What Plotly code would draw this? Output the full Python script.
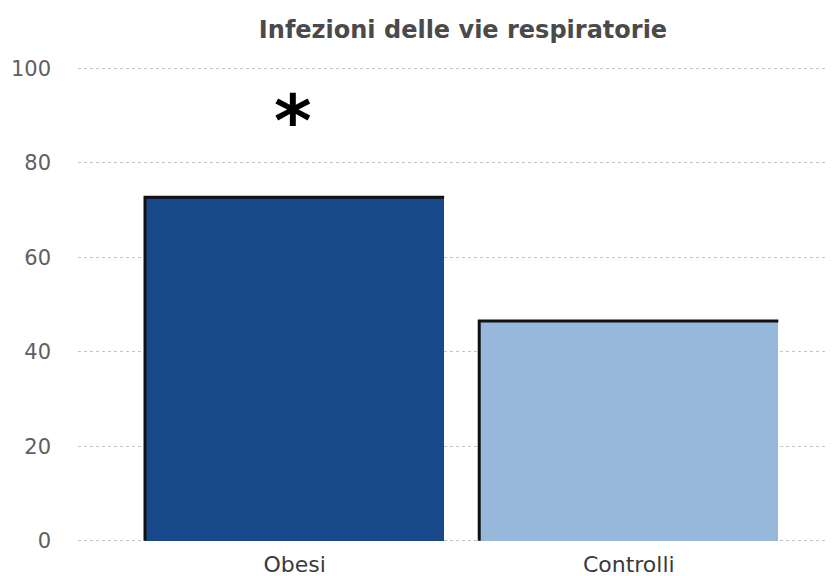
import plotly.graph_objects as go

categories = ["Obesi", "Controlli"]
values = [72.7, 46.5]
colors = ["#184A8B", "#95B8DB"]
y_ticks = [0, 20, 40, 60, 80, 100]
star_value = 90

bar_width = 0.895
xs = list(range(len(categories)))

fig = go.Figure()
fig.add_trace(go.Bar(x=xs, y=values, width=bar_width,
                     marker=dict(color=colors, line=dict(width=0)),
                     showlegend=False, hoverinfo="skip"))

# left + top border of each bar (drawn from the data values)
bx, by = [], []
for i, v in zip(xs, values):
    bx += [i - bar_width / 2, i - bar_width / 2, i + bar_width / 2, None]
    by += [0, v, v, None]
fig.add_trace(go.Scatter(x=bx, y=by, mode="lines",
                         line=dict(color="#111111", width=3),
                         showlegend=False, hoverinfo="skip"))

fig.add_annotation(x=xs[0], y=star_value, text="<b>*</b>", showarrow=False,
                   font=dict(size=72, color="#000000", family="DejaVu Sans"),
                   xref="x", yref="y", yanchor="middle", yshift=-5, xshift=-2)

fig.update_layout(
    width=828, height=568,
    margin=dict(l=70, r=0, t=58, b=33, autoexpand=False),
    paper_bgcolor="white", plot_bgcolor="white",
    title=dict(text="<b>Infezioni delle vie respiratorie</b>", x=0.5 + 6 / 758,
               xref="paper", y=1 - 22 / 568, yref="container", yanchor="middle",
               font=dict(size=24, color="#4A4A4A", family="DejaVu Sans")),
    xaxis=dict(range=[-0.648, 1.62], tickvals=xs, ticktext=categories,
               showgrid=False, zeroline=False, showline=False, ticks="",
               automargin=False,
               tickfont=dict(size=22, color="#3A3A3A", family="DejaVu Sans"),
               ticklabelstandoff=6),
    yaxis=dict(range=[-0.5, 100.5], tickvals=y_ticks, showgrid=True,
               gridcolor="#C4C4C4", griddash="dot", gridwidth=1,
               zeroline=False, showline=False, ticks="", automargin=False,
               tickfont=dict(size=21, color="#606060", family="DejaVu Sans"),
               ticklabelstandoff=26),
    bargap=0,
)

fig.write_html("out.html")
